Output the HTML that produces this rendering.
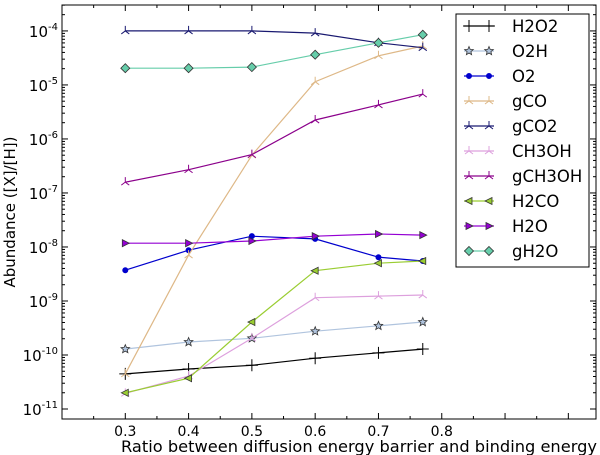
<!DOCTYPE html>
<html><head><meta charset="utf-8"><style>
html,body{margin:0;padding:0;background:#fff;}
svg{display:block;font-family:"DejaVu Sans","Liberation Sans",sans-serif;}
</style></head><body>
<svg id="chart" width="600" height="455" viewBox="0 0 600 455" xmlns="http://www.w3.org/2000/svg">
<text x="0" y="0" transform="translate(15,212) rotate(-90)" text-anchor="middle" font-size="15">Abundance ([X]/[H])</text>
<text x="359" y="452" text-anchor="middle" font-size="16" textLength="476" lengthAdjust="spacingAndGlyphs">Ratio between diffusion energy barrier and binding energy</text>
</svg>
<script>
const xValues = [0.3, 0.4, 0.5, 0.6, 0.7, 0.77];
const seriesNames = ["H2O2","O2H","O2","gCO","gCO2","CH3OH","gCH3OH","H2CO","H2O","gH2O"];
const logH2O2 = [-10.35,-10.26,-10.19,-10.06,-9.96,-9.89];
const logO2H = [-9.89,-9.76,-9.69,-9.56,-9.46,-9.39];
const logO2 = [-8.43,-8.06,-7.80,-7.85,-8.19,-8.26];
const logGCO = [-10.35,-8.15,-6.30,-4.94,-4.46,-4.28];
const logGCO2 = [-4.0,-4.0,-4.0,-4.04,-4.22,-4.31];
const logCH3OH = [-10.71,-10.39,-9.69,-8.94,-8.91,-8.89];
const logGCH3OH = [-6.80,-6.57,-6.29,-5.65,-5.37,-5.17];
const logH2CO = [-10.70,-10.43,-9.39,-8.44,-8.30,-8.26];
const logH2O = [-7.93,-7.93,-7.89,-7.80,-7.76,-7.78];
const logGH2O = [-4.69,-4.69,-4.67,-4.44,-4.22,-4.07];
const xTickLabels = ["0.3","0.4","0.5","0.6","0.7","0.8"];
const yTickExps = [-4,-5,-6,-7,-8,-9,-10,-11];

const NS="http://www.w3.org/2000/svg";
const svg=document.getElementById('chart');
const L=62,R=596,T=5,B=419;
const xMin=0.2,xMax=1.0437,yTopLog=-3.52,yBotLog=-11.185;
function xs(v){return L+(v-xMin)/(xMax-xMin)*(R-L);}
function ys(lv){return T+(yTopLog-lv)/(yTopLog-yBotLog)*(B-T);}
function mk(tag,attrs,parent){const e=document.createElementNS(NS,tag);for(const k in attrs)e.setAttribute(k,attrs[k]);(parent||svg).appendChild(e);return e;}

const frame=mk('rect',{x:L,y:T,width:R-L,height:B-T,fill:'none',stroke:'#000','stroke-width':1});



for(let v=0.2;v<=1.04;v+=0.05){
  const x=xs(v);const major=Math.abs(Math.round(v*10)-v*10)<1e-6;const len=major?6:3;
  const t1=mk('line',{x1:x,y1:B,x2:x,y2:B-len,stroke:'#000'});
  
  
  const t2=mk('line',{x1:x,y1:T,x2:x,y2:T+len,stroke:'#000'});
  
  
}
xTickLabels.forEach(s=>{
  const t=mk('text',{x:xs(parseFloat(s)),y:B+17,'text-anchor':'middle','font-size':14});
  t.textContent=s;
  
  
});
for(let e=-11;e<=-4;e++){
  for(let m=1;m<10;m++){
    const lv=e+Math.log10(m);const y=ys(lv);if(y<T||y>B)continue;
    const len=m===1?6:3;
    const a=mk('line',{x1:L,y1:y,x2:L+len,y2:y,stroke:'#000'});
    
    
    const b=mk('line',{x1:R,y1:y,x2:R-len,y2:y,stroke:'#000'});
    
    
  }
}
yTickExps.forEach(e=>{
  const t=mk('text',{x:L-4,y:ys(e)+6,'text-anchor':'end','font-size':15});
  
  
  const a=mk('tspan',{},t);a.textContent='10';
  const s=mk('tspan',{dy:-7,'font-size':10},t);s.textContent=String(e);
});

const colors=["#000000","#b0c4de","#0000cd","#deb887","#191970","#dda0dd","#8b008b","#9acd32","#9400d3","#66cdaa"];
const markers=["plus","star","dot","tri","tri","tri","tri","tleft","tright","diamond"];
const allData=[logH2O2,logO2H,logO2,logGCO,logGCO2,logCH3OH,logGCH3OH,logH2CO,logH2O,logGH2O];

function drawMarker(g,type,x,y,c){
  const s=4;
  if(type==='plus'){mk('path',{d:`M${x-6},${y}H${x+6}M${x},${y-6}V${y+6}`,stroke:c,'stroke-width':1},g);}
  else if(type==='star'){let p=[];for(let i=0;i<10;i++){const r=i%2?2:4.5;const a=-Math.PI/2+i*Math.PI/5;p.push((x+r*Math.cos(a)).toFixed(1)+','+(y+r*Math.sin(a)).toFixed(1));}mk('polygon',{points:p.join(' '),fill:c,stroke:'#333','stroke-width':0.8},g);}
  else if(type==='dot'){mk('circle',{cx:x,cy:y,r:2.5,fill:c,stroke:c},g);}
  else if(type==='tri'){mk('path',{d:`M${x},${y}V${y-s-1}M${x},${y}L${x-s},${y+s-1}M${x},${y}L${x+s},${y+s-1}`,stroke:c,'stroke-width':1,fill:'none'},g);}
  else if(type==='tleft'){mk('polygon',{points:`${x-4},${y} ${x+3},${y-3.5} ${x+3},${y+3.5}`,fill:c,stroke:'#333','stroke-width':0.8},g);}
  else if(type==='tright'){mk('polygon',{points:`${x+4},${y} ${x-3},${y-3.5} ${x-3},${y+3.5}`,fill:c,stroke:'#333','stroke-width':0.8},g);}
  else if(type==='diamond'){mk('polygon',{points:`${x},${y-4.5} ${x+4.5},${y} ${x},${y+4.5} ${x-4.5},${y}`,fill:c,stroke:'#333','stroke-width':0.8},g);}
}

allData.forEach((arr,i)=>{
  const g=mk('g',{});
  
  
  const pts=arr.map((v,j)=>xs(xValues[j]).toFixed(1)+','+ys(v).toFixed(1)).join(' ');
  mk('polyline',{points:pts,fill:'none',stroke:colors[i],'stroke-width':1.2},g);
  arr.forEach((v,j)=>drawMarker(g,markers[i],xs(xValues[j]),ys(v),colors[i]));
});

const lg=mk('g',{});


mk('rect',{x:456,y:14,width:133,height:253,fill:'#fff',stroke:'#000','stroke-width':1},lg);
seriesNames.forEach((n,i)=>{
  const y=26+i*25;
  const e=mk('g',{},lg);
  
  
  mk('line',{x1:464,y1:y,x2:494,y2:y,stroke:colors[i],'stroke-width':1.2},e);
  drawMarker(e,markers[i],469,y,colors[i]);
  drawMarker(e,markers[i],489,y,colors[i]);
  const t=mk('text',{x:512,y:y+6,'font-size':16.5},e);t.textContent=n;
});
</script>
</body></html>
